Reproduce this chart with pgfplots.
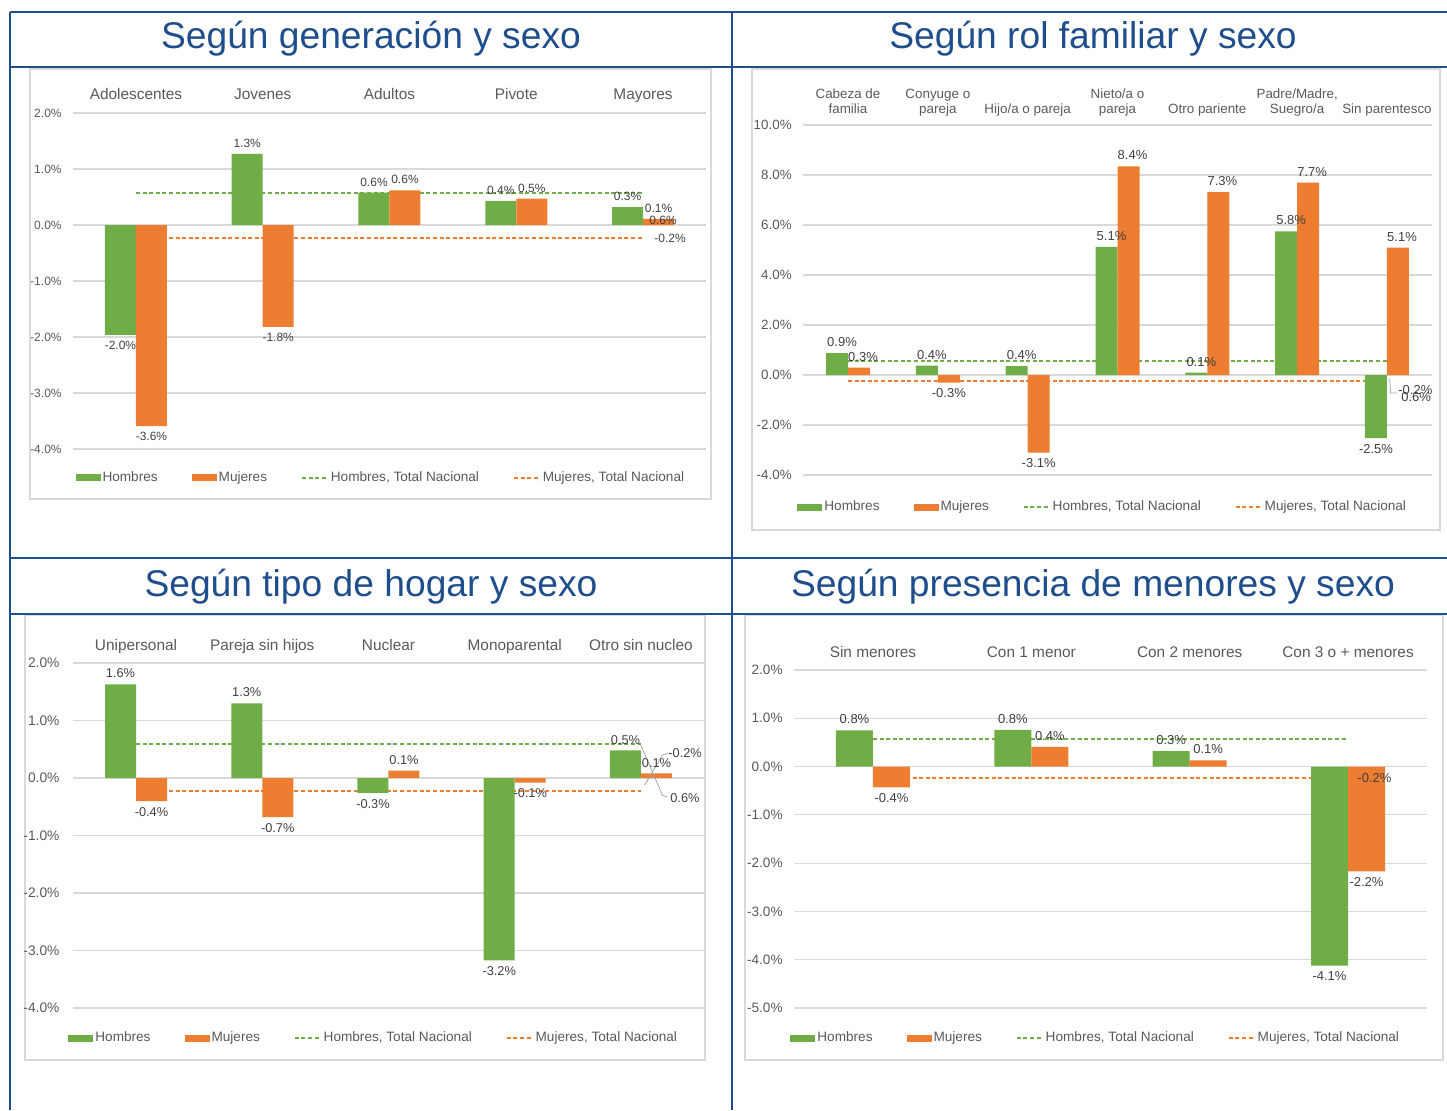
\documentclass[border=0pt]{standalone}
\usepackage{fontspec}
\setmainfont{Liberation Sans}
\usepackage{pgfplots}
\pgfplotsset{compat=1.18}

\definecolor{hgreen}{RGB}{112,173,71}
\definecolor{morange}{RGB}{237,125,49}
\definecolor{tblue}{RGB}{31,78,140}
\definecolor{gridc}{RGB}{217,217,217}
\definecolor{framec}{RGB}{217,217,217}
\definecolor{txt}{RGB}{89,89,89}
\definecolor{lbl}{RGB}{64,64,64}

\newcommand\hdr{\fontsize{18.6}{22}\selectfont}
\newcommand\fs[1]{\fontsize{#1}{#1}\selectfont}

\pgfplotsset{
  chart/.style={
    scale only axis, anchor=north west, clip=false,
    axis line style={draw=none}, major tick length=0pt,
    ymajorgrids, grid style={gridc, line width=0.6pt},
    xticklabel pos=upper,
    xticklabel style={anchor=south, inner sep=0pt, text depth=0pt, align=center, text=txt},
    yticklabel style={anchor=east, inner sep=0pt, text=txt},
    legend columns=4,
    legend cell align=left,
    legend style={draw=none, fill=none, anchor=west, inner sep=0pt, text=txt,
      font=\fs{6.8},
      /tikz/every even column/.append style={column sep=17pt},
      /tikz/every odd column/.append style={column sep=1pt},
      nodes={inner sep=0pt}},
  },
  hbar/.style={ybar, fill=hgreen, draw=none, bar shift=-#1,
    legend image code/.code={\fill[hgreen] (0pt,-1.75pt) rectangle (12.5pt,1.75pt);}},
  mbar/.style={ybar, fill=morange, draw=none, bar shift=#1,
    legend image code/.code={\fill[morange] (0pt,-1.75pt) rectangle (12.5pt,1.75pt);}},
  hline/.style={hgreen, line width=1pt, dash pattern=on 2pt off 1.3pt, mark=none,
    legend image code/.code={\draw[hgreen, line width=0.9pt, dash pattern=on 2pt off 1.3pt] (0pt,0pt) -- (13pt,0pt);}},
  mline/.style={morange, line width=1pt, dash pattern=on 2pt off 1.3pt, mark=none,
    legend image code/.code={\draw[morange, line width=0.9pt, dash pattern=on 2pt off 1.3pt] (0pt,0pt) -- (13pt,0pt);}},
  lab/.style 2 args={forget plot, draw=none, mark=none, nodes near coords, point meta=explicit symbolic,
    every node near coord/.append style={anchor=#2, xshift=#1, inner xsep=0pt, inner ysep=3pt, text depth=0pt}},
  endlabel/.style 2 args={forget plot, draw=none, mark=none, nodes near coords, point meta=explicit symbolic,
    every node near coord/.append style={anchor=west, inner sep=0pt, xshift=#1, yshift=#2}},
}

\begin{document}
\begin{tikzpicture}
\useasboundingbox (0pt,0pt) rectangle (723.5pt,-555pt);

% table grid
\begin{scope}[tblue, line width=1.3pt]
  \draw (5pt,-6pt) -- (723.5pt,-6pt);
  \draw (5pt,-33.5pt) -- (723.5pt,-33.5pt);
  \draw (5pt,-279pt) -- (723.5pt,-279pt);
  \draw (5pt,-307pt) -- (723.5pt,-307pt);
  \draw (5pt,-6pt) -- (5pt,-555pt);
  \draw (366pt,-6pt) -- (366pt,-555pt);
\end{scope}

\node[text=tblue, font=\hdr] at (185.5pt,-19.5pt) {Según generación y sexo};
\node[text=tblue, font=\hdr] at (546.5pt,-19.5pt) {Según rol familiar y sexo};
\node[text=tblue, font=\hdr] at (185.5pt,-293.3pt) {Según tipo de hogar y sexo};
\node[text=tblue, font=\hdr] at (546.5pt,-293.3pt) {Según presencia de menores y sexo};

% chart frames
\begin{scope}[framec, line width=0.6pt]
  \draw (15pt,-34.5pt) rectangle (355.5pt,-249.5pt);
  \draw (376pt,-34.5pt) rectangle (720pt,-265pt);
  \draw (12.5pt,-307.8pt) rectangle (352.5pt,-530pt);
  \draw (372.5pt,-307.8pt) rectangle (721.5pt,-530pt);
\end{scope}

% ---- chart 1: generacion
\begin{axis}[chart, at={(36.3pt,-56.5pt)}, width=316.9pt, height=168pt,
  xmin=-0.5, xmax=4.5, ymin=-4, ymax=2,
  xtick={0,...,4}, xticklabels={Adolescentes,Jovenes,Adultos,Pivote,Mayores},
  xticklabel style={font=\fs{7.7}, yshift=6.75pt},
  ytick={-4,...,2}, yticklabels={-4.0\%,-3.0\%,-2.0\%,-1.0\%,0.0\%,1.0\%,2.0\%},
  yticklabel style={font=\fs{6}, xshift=-5.3pt},
  bar width=15.5pt,
  every node near coord/.append style={font=\fs{6}, text=lbl},
  legend style={at={(0.004,-0.086)}}]
  \addplot[hline, forget plot] coordinates {(0,0.58) (4,0.58)};
  \addplot[mline, forget plot] coordinates {(0,-0.23) (4,-0.23)};
  \addplot[hbar=7.75pt] coordinates {(0,-1.96) (1,1.27) (2,0.58) (3,0.43) (4,0.32)};
  \addlegendentry{Hombres}
  \addplot[mbar=7.75pt] coordinates {(0,-3.59) (1,-1.82) (2,0.62) (3,0.47) (4,0.11)};
  \addlegendentry{Mujeres}
  \addplot[lab={-7.75pt}{south}] coordinates {(1,1.27)[1.3\%] (2,0.58)[0.6\%] (3,0.43)[0.4\%] (4,0.32)[0.3\%]};
  \addplot[lab={-7.75pt}{north}] coordinates {(0,-1.96)[-2.0\%]};
  \addplot[lab={7.75pt}{south}] coordinates {(2,0.62)[0.6\%] (3,0.47)[0.5\%] (4,0.11)[0.1\%]};
  \addplot[lab={7.75pt}{north}] coordinates {(0,-3.59)[-3.6\%] (1,-1.82)[-1.8\%]};
  \addplot[endlabel={3pt}{-14pt}] coordinates {(4,0.58)[0.6\%]};
  \addplot[endlabel={5.5pt}{0pt}] coordinates {(4,-0.23)[-0.2\%]};
  \addlegendimage{hline}\addlegendentry{Hombres, Total Nacional}
  \addlegendimage{mline}\addlegendentry{Mujeres, Total Nacional}
\end{axis}

% ---- chart 2: rol familiar
\begin{axis}[chart, at={(401.55pt,-62.5pt)}, width=314.4pt, height=175pt,
  xmin=-0.5, xmax=6.5, ymin=-4, ymax=10,
  xtick={0,...,6},
  xticklabels={Cabeza de\\familia, Conyuge o\\pareja, Hijo/a o pareja, Nieto/a o\\pareja, Otro pariente, {Padre/Madre,\\Suegro/a}, Sin parentesco},
  xticklabel style={font=\fontsize{6.7}{7.5}\selectfont, yshift=5.75pt},
  ytick={-4,-2,...,10}, yticklabels={-4.0\%,-2.0\%,0.0\%,2.0\%,4.0\%,6.0\%,8.0\%,10.0\%},
  yticklabel style={font=\fs{6.7}, xshift=-5.5pt},
  bar width=11pt,
  every node near coord/.append style={font=\fs{6.5}, text=lbl},
  legend style={at={(-0.0097,-0.0914)}}]
  \addplot[hline, forget plot] coordinates {(0,0.58) (6,0.58)};
  \addplot[mline, forget plot] coordinates {(0,-0.23) (6,-0.23)};
  \addplot[hbar=5.5pt] coordinates {(0,0.88) (1,0.38) (2,0.36) (3,5.13) (4,0.1) (5,5.75) (6,-2.52)};
  \addlegendentry{Hombres}
  \addplot[mbar=5.5pt] coordinates {(0,0.3) (1,-0.3) (2,-3.1) (3,8.35) (4,7.32) (5,7.7) (6,5.1)};
  \addlegendentry{Mujeres}
  \addplot[lab={-3pt}{south}] coordinates {(0,0.88)[0.9\%] (1,0.38)[0.4\%] (2,0.36)[0.4\%] (3,5.13)[5.1\%] (4,0.1)[0.1\%] (5,5.75)[5.8\%]};
  \addplot[lab={-5.5pt}{north}] coordinates {(6,-2.52)[-2.5\%]};
  \addplot[lab={7.5pt}{south}] coordinates {(0,0.3)[0.3\%] (3,8.35)[8.4\%] (4,7.32)[7.3\%] (5,7.7)[7.7\%] (6,5.1)[5.1\%]};
  \addplot[lab={5.5pt}{north}] coordinates {(1,-0.3)[-0.3\%] (2,-3.1)[-3.1\%]};
  \draw[gray!70, line width=0.4pt] (axis cs:6.03,-0.12) -- (axis cs:6.04,-0.72) -- (axis cs:6.11,-0.72);
  \addplot[endlabel={7pt}{-18.5pt}] coordinates {(6,0.58)[0.6\%]};
  \addplot[endlabel={5.5pt}{-4.5pt}] coordinates {(6,-0.23)[-0.2\%]};
  \addlegendimage{hline}\addlegendentry{Hombres, Total Nacional}
  \addlegendimage{mline}\addlegendentry{Mujeres, Total Nacional}
\end{axis}

% ---- chart 3: tipo de hogar
\begin{axis}[chart, at={(36.45pt,-331.5pt)}, width=315.6pt, height=172.5pt,
  xmin=-0.5, xmax=4.5, ymin=-4, ymax=2,
  xtick={0,...,4}, xticklabels={Unipersonal,Pareja sin hijos,Nuclear,Monoparental,Otro sin nucleo},
  xticklabel style={font=\fs{7.7}, yshift=6.25pt},
  ytick={-4,...,2}, yticklabels={-4.0\%,-3.0\%,-2.0\%,-1.0\%,0.0\%,1.0\%,2.0\%},
  yticklabel style={font=\fs{6.9}, xshift=-6.5pt},
  bar width=15.5pt,
  every node near coord/.append style={font=\fs{6.4}, text=lbl},
  legend style={at={(-0.0078,-0.087)}}]
  \addplot[hline, forget plot] coordinates {(0,0.59) (4,0.59)};
  \addplot[mline, forget plot] coordinates {(0,-0.23) (4,-0.23)};
  \addplot[hbar=7.75pt] coordinates {(0,1.63) (1,1.30) (2,-0.26) (3,-3.17) (4,0.48)};
  \addlegendentry{Hombres}
  \addplot[mbar=7.75pt] coordinates {(0,-0.40) (1,-0.68) (2,0.13) (3,-0.08) (4,0.08)};
  \addlegendentry{Mujeres}
  \addplot[lab={-7.75pt}{south}] coordinates {(0,1.63)[1.6\%] (1,1.30)[1.3\%] (4,0.48)[0.5\%]};
  \addplot[lab={-7.75pt}{north}] coordinates {(2,-0.26)[-0.3\%] (3,-3.17)[-3.2\%]};
  \addplot[lab={7.75pt}{south}] coordinates {(2,0.13)[0.1\%] (4,0.08)[0.1\%]};
  \addplot[lab={7.75pt}{north}] coordinates {(0,-0.40)[-0.4\%] (1,-0.68)[-0.7\%] (3,-0.08)[-0.1\%]};
  \draw[gray!70, line width=0.4pt] (axis cs:4.0,0.57) -- (axis cs:4.17,-0.30) -- (axis cs:4.21,-0.33);
  \draw[gray!70, line width=0.4pt] (axis cs:4.03,-0.12) -- (axis cs:4.17,0.40) -- (axis cs:4.21,0.43);
  \addplot[endlabel={14.5pt}{-27pt}] coordinates {(4,0.59)[0.6\%]};
  \addplot[endlabel={13.5pt}{19pt}] coordinates {(4,-0.23)[-0.2\%]};
  \addlegendimage{hline}\addlegendentry{Hombres, Total Nacional}
  \addlegendimage{mline}\addlegendentry{Mujeres, Total Nacional}
\end{axis}

% ---- chart 4: presencia de menores
\begin{axis}[chart, at={(396.9pt,-335pt)}, width=316.7pt, height=169pt,
  xmin=-0.5, xmax=3.5, ymin=-5, ymax=2,
  xtick={0,...,3}, xticklabels={Sin menores,Con 1 menor,Con 2 menores,Con 3 o + menores},
  xticklabel style={font=\fs{7.7}, yshift=6.25pt},
  ytick={-5,...,2}, yticklabels={-5.0\%,-4.0\%,-3.0\%,-2.0\%,-1.0\%,0.0\%,1.0\%,2.0\%},
  yticklabel style={font=\fs{6.8}, xshift=-5.4pt},
  bar width=18.5pt,
  every node near coord/.append style={font=\fs{6.5}, text=lbl},
  legend style={at={(-0.006,-0.0888)}}]
  \addplot[hline, forget plot] coordinates {(0,0.58) (3,0.58)};
  \addplot[mline, forget plot] coordinates {(0,-0.23) (3,-0.23)};
  \addplot[hbar=9.25pt] coordinates {(0,0.75) (1,0.76) (2,0.32) (3,-4.12)};
  \addlegendentry{Hombres}
  \addplot[mbar=9.25pt] coordinates {(0,-0.43) (1,0.41) (2,0.13) (3,-2.17)};
  \addlegendentry{Mujeres}
  \addplot[lab={-9.25pt}{south}] coordinates {(0,0.75)[0.8\%] (1,0.76)[0.8\%] (2,0.32)[0.3\%]};
  \addplot[lab={-9.25pt}{north}] coordinates {(3,-4.12)[-4.1\%]};
  \addplot[lab={9.25pt}{south}] coordinates {(1,0.41)[0.4\%] (2,0.13)[0.1\%]};
  \addplot[lab={9.25pt}{north}] coordinates {(0,-0.43)[-0.4\%] (3,-2.17)[-2.2\%]};
  \addplot[endlabel={4.5pt}{0pt}] coordinates {(3,-0.23)[-0.2\%]};
  \addlegendimage{hline}\addlegendentry{Hombres, Total Nacional}
  \addlegendimage{mline}\addlegendentry{Mujeres, Total Nacional}
\end{axis}
\end{tikzpicture}
\end{document}
